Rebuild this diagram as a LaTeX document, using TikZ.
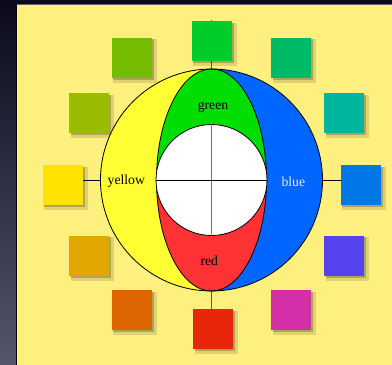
\documentclass[tikz,border=0pt]{standalone}
\usepackage{xcolor}
\usepackage{tikz}
\usepackage{fontspec}
\setmainfont{Liberation Serif}
\usetikzlibrary{shadows}

\definecolor{paper}{HTML}{FEF07F}
\definecolor{deskTop}{HTML}{0A0A1C}
\definecolor{deskBot}{HTML}{55556B}
\definecolor{ringyellow}{HTML}{FFFF33}
\definecolor{ringgreen}{HTML}{00DD00}
\definecolor{ringblue}{HTML}{0066FF}
\definecolor{ringred}{HTML}{FF3333}
\definecolor{cgreen}{HTML}{00CC2A}
\definecolor{cgreenteal}{HTML}{00BB66}
\definecolor{cteal}{HTML}{00B59E}
\definecolor{cblue}{HTML}{0077E6}
\definecolor{cviolet}{HTML}{5544EE}
\definecolor{cmagenta}{HTML}{D42EA8}
\definecolor{cred}{HTML}{E8260A}
\definecolor{corange}{HTML}{DD6600}
\definecolor{camber}{HTML}{E0A800}
\definecolor{cyellow}{HTML}{FFE200}
\definecolor{colive}{HTML}{99BB00}
\definecolor{cleaf}{HTML}{75BB00}

\tikzset{
  swatch/.style={minimum size=40pt, inner sep=0pt, fill=#1,
    drop shadow={shadow xshift=3pt, shadow yshift=-3pt, shadow scale=1.08,
      fill=black, opacity=.12},
    drop shadow={shadow xshift=2pt, shadow yshift=-2pt, shadow scale=1.02,
      fill=black, opacity=.22}},
  rim/.style={draw=black, line width=0.8pt},
  tag/.style={anchor=base, font=\fontsize{13.7}{16}\selectfont}
}

\begin{document}
\begin{tikzpicture}[x=1pt, y=-1pt]
\useasboundingbox (0,0) rectangle (392,365);
% backdrop
\shade[top color=deskTop, bottom color=deskBot] (0,0) rectangle (17,365);
\fill[deskTop] (0,0) rectangle (392,4);
\fill[paper] (17,4) rectangle (392,365);
\draw[black!60, line width=0.5pt] (17,4.2) -- (392,4.2);
\draw[black, line width=0.8pt] (16.6,4) -- (16.6,365);

\coordinate (hub) at (211.5,180);
\coordinate (pgreen) at (211.7,41);
\coordinate (pblue) at (360.8,185);
\coordinate (pred) at (213,329);
\coordinate (pyellow) at (62.7,185);
\coordinate (tick) at (211.5,19.5);

% axes behind squares and wheel
\draw[black!65, line width=1.1pt] (tick) -- (hub |- pred);
\draw[black, line width=0.9pt] (pyellow |- hub) -- (pblue |- hub);

% colour squares
\node[swatch=cgreen] (sqgreen) at (pgreen) {};
\node[swatch=cgreenteal] (sqgreenteal) at (291,57.7) {};
\node[swatch=cteal] (sqteal) at (344,113) {};
\node[swatch=cblue] (sqblue) at (pblue) {};
\node[swatch=cviolet] (sqviolet) at (344,255.7) {};
\node[swatch=cmagenta] (sqmagenta) at (291,310) {};
\node[swatch=cred] (sqred) at (pred) {};
\node[swatch=corange] (sqorange) at (131.8,310) {};
\node[swatch=camber] (sqamber) at (89,255.7) {};
\node[swatch=cyellow] (sqyellow) at (pyellow) {};
\node[swatch=colive] (sqolive) at (89,113) {};
\node[swatch=cleaf] (sqleaf) at (131.8,57.7) {};

% wheel
\fill[ringblue] (hub) circle (111);
\fill[ringyellow] (211.5,69) arc (270:90:111);
\fill[ringgreen] (266.5,180) arc (0:-180:55 and 111) -- cycle;
\fill[ringred] (266.5,180) arc (0:180:55 and 111) -- cycle;
\draw[rim] (hub) circle (111);
\draw[rim] (hub) ellipse (55 and 111);
\node[circle, minimum size=111pt, inner sep=0pt, fill=white, rim] (core) at (hub) {};
\draw[black!55, line width=1.1pt] (core.north) -- (core.south);
\draw[black, line width=0.9pt] (core.west) -- (core.east);

% labels
\node[tag] (lgreen) at (213,109) {green};
\node[tag] (lyellow) at (126.3,184) {yellow};
\node[tag, text=blue!8!white] (lblue) at (293.3,186.5) {blue};
\node[tag] (lred) at (209.3,265) {red};
\end{tikzpicture}
\end{document}
